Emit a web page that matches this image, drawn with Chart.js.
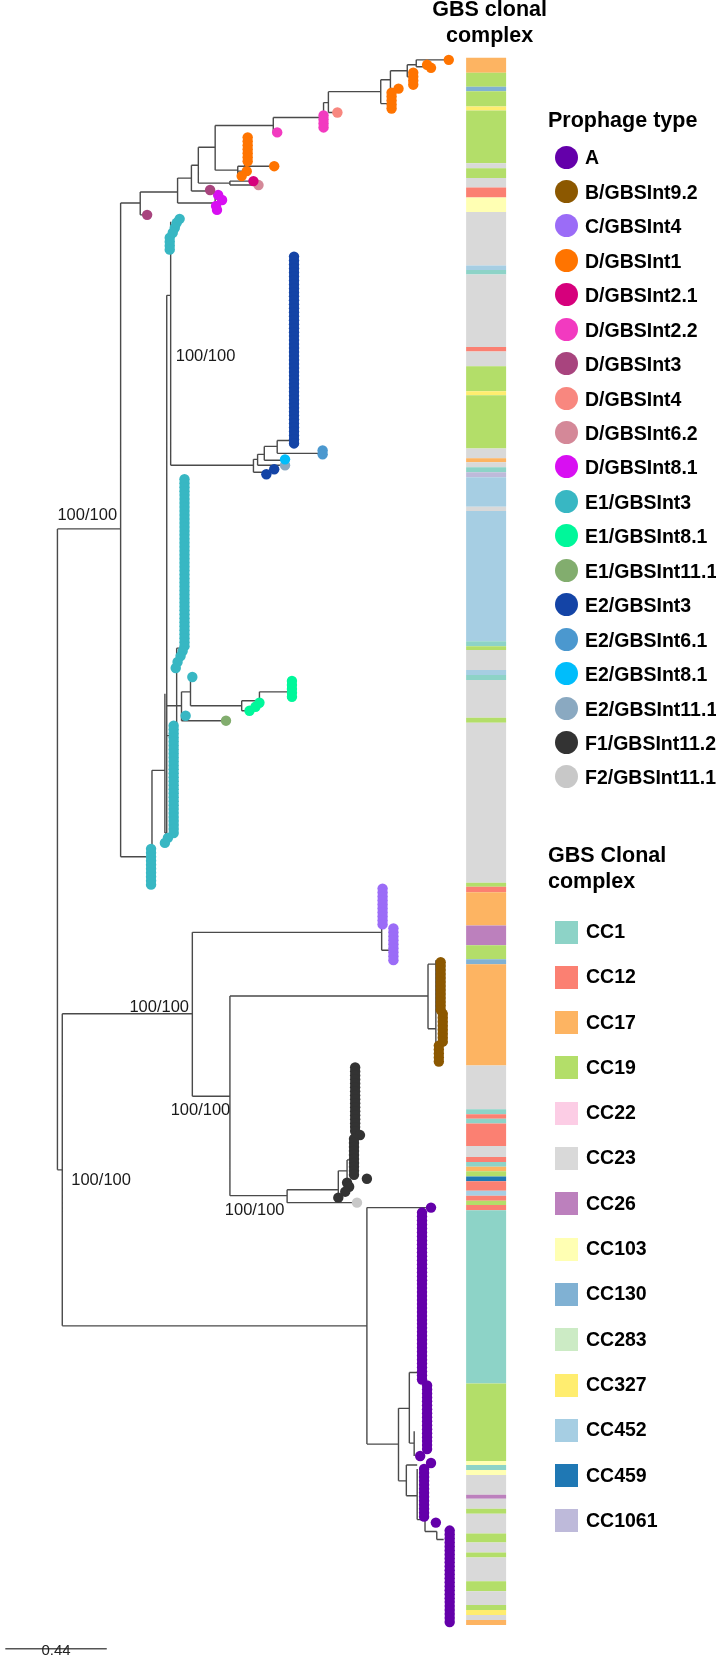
<!DOCTYPE html>
<html><head><meta charset="utf-8">
<script src="https://cdn.jsdelivr.net/npm/chart.js@4.4.1/dist/chart.umd.min.js"></script>
<style>
html,body{margin:0;padding:0;background:#fff;}
#wrap{position:relative;width:716px;height:1655px;overflow:hidden;font-family:"Liberation Sans",Arial,Helvetica,sans-serif;}
#c{position:absolute;left:0;top:0;}
.t{position:absolute;white-space:nowrap;color:#000;}
.mk{position:absolute;}
</style></head><body>
<div id="wrap"><canvas id="c" width="716" height="1655"></canvas></div>
<script>
// ---------- DATA ----------
const prophageTypes = ['A','B/GBSInt9.2','C/GBSInt4','D/GBSInt1','D/GBSInt2.1','D/GBSInt2.2','D/GBSInt3','D/GBSInt4','D/GBSInt6.2','D/GBSInt8.1','E1/GBSInt3','E1/GBSInt8.1','E1/GBSInt11.1','E2/GBSInt3','E2/GBSInt6.1','E2/GBSInt8.1','E2/GBSInt11.1','F1/GBSInt11.2','F2/GBSInt11.1'];
const prophageColors = ['#6400aa','#8c5800','#9b6cf7','#ff7400','#d6007c','#f23ac0','#a8447e','#f8877f','#d48898','#d80ff2','#38b7c3','#00f79a','#82ad6e','#1444a6','#4b98cf','#00bdfb','#8aa9c1','#333333','#c8c8c8'];
const ccCodes = ['CC1','CC12','CC17','CC19','CC22','CC23','CC26','CC103','CC130','CC283','CC327','CC452','CC459','CC1061'];
const ccColors = ['#8dd3c7','#fb8072','#fdb462','#b3de69','#fccde5','#d9d9d9','#bc80bd','#ffffb3','#80b1d3','#ccebc5','#ffed6f','#a6cee3','#1f78b4','#bebada'];

// clonal complex strip: boundaries in tip-index units (top to bottom) and CC of each band
const stripBounds = [0,3.75,7.25,8.4,12.25,13.25,26.5,27.75,30.25,32.6,35.1,38.75,52.25,53.4,54.5,72.75,73.9,77.6,83.9,84.9,98.25,100.75,101.75,103,104.25,105.5,112.9,114,146.75,148,149,154,155.25,156.5,166,167.25,207.5,208.5,209.9,218.25,223.25,226.75,228,253.5,264.5,265.75,266.9,268.1,273.75,276.5,277.75,279,280.1,281.4,282.6,285,286.25,287.5,288.6,289.9,333.5,353,354,355.25,356.5,361.5,362.5,365,366.25,371.25,373.5,376,377.25,383.25,385.75,389.25,390.5,391.75,393,394.25];
const stripCC = ['CC17','CC19','CC130','CC19','CC327','CC19','CC23','CC19','CC23','CC12','CC103','CC23','CC452','CC1','CC23','CC12','CC23','CC19','CC327','CC19','CC23','CC17','CC23','CC1','CC1061','CC452','CC23','CC452','CC1','CC19','CC23','CC452','CC1','CC23','CC19','CC23','CC19','CC12','CC17','CC26','CC19','CC130','CC17','CC23','CC1','CC12','CC1','CC12','CC23','CC12','CC1','CC17','CC19','CC459','CC12','CC452','CC12','CC19','CC12','CC1','CC19','CC103','CC1','CC103','CC23','CC26','CC23','CC19','CC23','CC19','CC23','CC19','CC23','CC19','CC23','CC19','CC327','CC23','CC17'];

// tips: [prophage type index, root-to-tip distance, first tip index, last tip index]
const tipRuns = [
 [3,1.697,0.5,0.5],[3,1.603,1.75,1.75],[3,1.620,2.5,2.5],[3,1.543,3.75,6.75],[3,1.479,7.75,7.75],[3,1.449,8.75,12.75],
 [7,1.214,13.75,13.75],[5,1.154,14.5,17.5],[5,0.953,18.75,18.75],
 [3,0.825,20,26],[3,0.940,27.25,27.25],[3,0.821,28.5,28.5],[3,0.799,29.75,29.75],
 [4,0.850,31,31],[8,0.872,32,32],[6,0.662,33.25,33.25],
 [9,0.697,34.5,34.5],[9,0.714,35.75,35.75],[9,0.688,37.25,37.25],[9,0.692,38.25,38.25],
 [6,0.389,39.5,39.5],
 [10,0.530,40.5,40.5],[10,0.517,41.5,41.5],[10,0.509,42.75,42.75],[10,0.500,44,44],[10,0.487,45.25,48.25],
 [13,1.026,50,97],[14,1.150,98.75,99.75],[15,0.987,101,101],[16,0.987,102.5,102.5],[13,0.940,103.5,103.5],[13,0.906,104.75,104.75],
 [10,0.551,106,148],[10,0.543,149.25,149.25],[10,0.534,150.5,150.5],[10,0.521,152,152],[10,0.513,153.5,153.5],[10,0.585,155.75,155.75],
 [11,1.017,156.75,160.75],[11,0.876,162.25,162.25],[11,0.859,163.25,163.25],[11,0.833,164.25,164.25],
 [10,0.556,165.5,165.5],[12,0.731,166.75,166.75],
 [10,0.504,168,195],[10,0.479,196.25,196.25],[10,0.466,197.5,197.5],[10,0.406,199,208],
 [2,1.410,209,218],[2,1.457,219,227],
 [1,1.662,227.5,239.5],[1,1.671,240.5,247.5],[1,1.654,248.5,253],
 [17,1.291,254,270],[17,1.312,271,271],[17,1.286,272,281],[17,1.342,282,282],[17,1.256,283,283],[17,1.265,284,284],[17,1.248,285.25,285.25],[17,1.218,286.75,286.75],
 [18,1.299,288,288],
 [0,1.620,289.25,289.25],[0,1.581,290.5,332.5],[0,1.603,334,350],[0,1.573,351.75,351.75],[0,1.620,353.5,353.5],[0,1.590,355,367],[0,1.641,368.5,368.5],[0,1.701,370.5,393.5]
];

// horizontal branches: [from distance, to distance, tip index]
const hBranches = [
 [0,0.274,118.5],[0,0.021,279.75],[0.021,0.585,240.5],[0.021,1.342,319],
 [0.274,0.359,36.5],[0.274,0.410,201],
 [0.359,0.389,39.5],[0.359,0.521,33.75],[0.521,0.684,36.5],[0.521,0.581,30.25],[0.581,0.662,33.5],[0.581,0.611,27],
 [0.611,0.748,31.5],[0.748,0.850,31],[0.748,0.872,32],[0.611,0.684,22.5],[0.684,0.782,28.25],[0.782,0.940,27.25],
 [0.782,0.812,28.5],[0.782,0.799,29.75],[0.684,0.936,17],[0.936,0.953,18.75],[0.936,1.154,15],[1.154,1.175,11.25],
 [1.175,1.214,13.75],[1.175,1.402,8.5],[1.402,1.440,11.5],[1.402,1.444,5.5],[1.444,1.479,7.75],[1.444,1.517,3.25],
 [1.517,1.540,4.75],[1.517,1.556,1.75],[1.556,1.697,0.5],[1.556,1.603,2.25],
 [0.410,0.466,179.25],[0.466,0.474,195],[0.474,0.491,59.75],[0.491,0.850,102.5],[0.474,0.517,170.5],[0.517,0.543,148.5],
 [0.474,0.538,163],[0.538,0.714,166.75],[0.538,0.577,159.5],[0.577,0.585,155.75],[0.577,0.799,163],[0.799,0.833,164.25],
 [0.799,0.876,161.75],[0.876,1.000,159.5],
 [0.850,0.893,104.25],[0.850,0.868,101],[0.868,0.970,102.5],[0.868,0.897,99.75],[0.897,0.970,101.25],[0.897,0.953,97.75],
 [0.953,1.141,99.5],[0.953,1.013,96.25],
 [0.585,1.406,220],[1.406,1.440,224.5],[0.585,0.748,261.25],[0.748,1.607,236],[1.607,1.641,228],[1.607,1.641,244.25],
 [0.748,0.996,286.25],[0.996,1.278,288],[0.996,1.218,284.75],[1.218,1.256,280],[1.256,1.278,277.25],
 [1.342,1.598,289.25],[1.526,1.568,330.75],[1.526,1.547,348.5],[1.479,1.526,339.75],[1.342,1.479,348.75],[1.479,1.513,358],
 [1.513,1.560,354],[1.513,1.560,361.75],[1.560,1.594,367.75],[1.594,1.645,370.75],[1.645,1.675,372.75]
];
// vertical branches: [distance, from tip index, to tip index]
const vBranches = [
 [0,118.5,279.75],[0.021,240.5,319],[0.274,36.5,201],
 [0.359,33.75,39.5],[0.521,30.25,36.5],[0.684,34.5,38.25],[0.581,27,33.5],[0.611,22.5,31.5],[0.748,31,32],[0.684,17,28.25],
 [0.782,27.25,29.75],[0.812,20,28.5],[0.936,15,18.75],[1.154,11.25,17.5],[1.175,8.5,13.75],[1.402,5.5,11.5],[1.440,8.75,12.75],
 [1.444,3.25,7.75],[1.517,1.75,4.75],[1.540,3.75,6.75],[1.556,0.5,2.25],
 [0.410,179.25,208.5],[0.466,160,195],[0.474,59.75,195],[0.491,41.25,102.5],[0.517,148.5,170.5],[0.543,105.25,148.5],
 [0.538,159.5,166.75],[0.577,155.75,163],[0.799,161.75,164.25],[0.876,159.5,162.25],[1.000,156.75,161.25],
 [0.850,101,104.25],[0.868,99.75,102.5],[0.897,97.75,101.25],[0.953,96.25,99.5],[1.013,49.75,96.25],
 [0.585,220,261.25],[1.406,208.75,224.5],[1.445,219,227],[0.748,236,286.25],[1.607,228,244.25],[1.641,227,253],
 [0.996,284.75,288],[1.218,280,286.75],[1.256,277.25,284.5],[1.278,253.25,279.25],
 [1.342,289.25,348.75],[1.568,290.25,330.75],[1.526,330.75,348.5],[1.547,345.5,351.75],[1.479,339.75,358],[1.513,354,361.75],
 [1.560,355,367.75],[1.594,367.75,370.75],[1.645,370.75,372.75],[1.690,371,393]
];
// bootstrap support labels: text, left edge (distance), baseline (tip index)
const bootText = ['100/100','100/100','100/100','100/100','100/100','100/100'];
const bootX = [0.513, 0.0, 0.312, 0.491, 0.060, 0.726];
const bootY = [76.25, 116.25, 240, 266, 283.5, 291];
const scaleBarLength = 0.44;
const scaleBarStart = -0.226;
const scaleBarRow = 400.25;
const stripX = 1.859;

// ---------- CHART ----------
const X_MIN = -0.2265, X_MAX = 2.8333, T_MIN = -13.25, T_MAX = 400.5;

const branchPts = [];
hBranches.forEach(b => { branchPts.push({x:b[0],y:b[2]},{x:b[1],y:b[2]},{x:b[1],y:null}); });
vBranches.forEach(b => { branchPts.push({x:b[0],y:b[1]},{x:b[0],y:b[2]},{x:b[0],y:null}); });

const datasets = [];
datasets.push({label:'branches', data:branchPts, showLine:true, spanGaps:false, borderColor:'#4a4a4a', borderWidth:1.4, pointRadius:0, order:5, clip:false});
prophageTypes.forEach((name, i) => {
  const pts = [];
  tipRuns.filter(r => r[0] === i).forEach(r => { for (let t = r[2]; t <= r[3] + 1e-6; t += 1) pts.push({x:r[1], y:t}); });
  datasets.push({label:name, data:pts, showLine:false, pointRadius:5.2, pointBorderWidth:0, pointBackgroundColor:prophageColors[i], backgroundColor:prophageColors[i], borderColor:prophageColors[i], order:1, clip:false});
});
datasets.push({label:'strip', data:stripBounds.map(b => ({x:stripX, y:b})), showLine:true, borderWidth:40, borderCapStyle:'butt', pointRadius:0, order:6, clip:false,
  segment:{borderColor: ctx => ccColors[ccCodes.indexOf(stripCC[ctx.p0DataIndex])]}, borderColor:'#d9d9d9'});
datasets.push({label:'scale', data:[{x:scaleBarStart,y:scaleBarRow},{x:scaleBarStart+scaleBarLength,y:scaleBarRow}], showLine:true, borderColor:'#555', borderWidth:1.4, pointRadius:0, order:4, clip:false});

const chart = new Chart(document.getElementById('c'), {
  type:'line',
  data:{datasets},
  options:{
    responsive:false, animation:false, events:[], devicePixelRatio:1,
    layout:{padding:0},
    plugins:{legend:{display:false}, tooltip:{enabled:false}, title:{display:false}},
    scales:{
      x:{type:'linear', display:false, min:X_MIN, max:X_MAX},
      y:{type:'linear', display:false, reverse:true, min:T_MIN, max:T_MAX}
    }
  }
});

// ---------- TEXT & LEGENDS ----------
const wrap = document.getElementById('wrap');
function addText(txt, x, baseline, size, weight, align, color) {
  const d = document.createElement('div');
  d.className = 't';
  d.textContent = txt;
  d.style.fontSize = size + 'px';
  d.style.lineHeight = size + 'px';
  d.style.fontWeight = weight;
  d.style.color = color || '#000';
  d.style.top = (baseline - 0.8465 * size) + 'px';
  if (align === 'center') { d.style.left = (x - 200) + 'px'; d.style.width = '400px'; d.style.textAlign = 'center'; }
  else d.style.left = x + 'px';
  wrap.appendChild(d);
}
function addMark(cx, cy, size, color, round) {
  const d = document.createElement('div');
  d.className = 'mk';
  d.style.left = (cx - size/2) + 'px'; d.style.top = (cy - size/2) + 'px';
  d.style.width = size + 'px'; d.style.height = size + 'px';
  d.style.background = color;
  if (round) d.style.borderRadius = '50%';
  wrap.appendChild(d);
}
const xs = chart.scales.x, ys = chart.scales.y;
bootText.forEach((t, i) => addText(t, xs.getPixelForValue(bootX[i]), ys.getPixelForValue(bootY[i]), 16.5, 400, 'left', '#1a1a1a'));
addText(String(scaleBarLength), xs.getPixelForValue(scaleBarStart + scaleBarLength/2), 1655, 15, 400, 'center', '#222');

const stripCenter = xs.getPixelForValue(stripX) + 3.5;
addText('GBS clonal', stripCenter, 17, 21.5, 700, 'center');
addText('complex', stripCenter, 43, 21.5, 700, 'center');

addText('Prophage type', 548, 128.5, 21.5, 700, 'left');
prophageTypes.forEach((name, i) => {
  const cy = 157 + i * 34.44;
  addMark(566, cy, 23, prophageColors[i], true);
  addText(name, 585, cy + 8, 19.5, 700, 'left');
});
addText('GBS Clonal', 548, 863, 21.5, 700, 'left');
addText('complex', 548, 889, 21.5, 700, 'left');
ccCodes.forEach((name, i) => {
  const cy = 932 + i * 45.3;
  addMark(566.5, cy, 23, ccColors[i], false);
  addText(name, 586, cy + 6.5, 19.5, 700, 'left');
});
</script>
</body></html>
